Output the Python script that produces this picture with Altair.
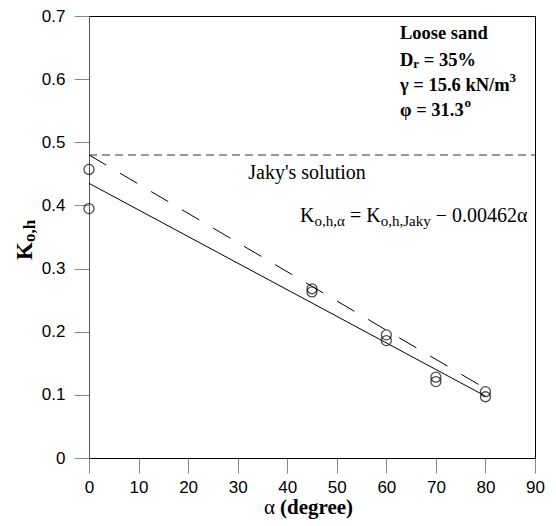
import altair as alt
import pandas as pd

# ---- data ----
alpha_pts = [0, 0, 45, 45, 60, 60, 70, 70, 80, 80]
k_pts = [0.457, 0.395, 0.268, 0.263, 0.195, 0.186, 0.128, 0.121, 0.105, 0.097]

fit_alpha = [0, 80]
fit_k = [0.435, 0.098]

jaky_alpha = [0, 80]
jaky_k = [0.48, 0.11]

jaky_level_alpha = [0, 90]
jaky_level_k = [0.48, 0.48]

x_ticks = [0, 10, 20, 30, 40, 50, 60, 70, 80, 90]
y_ticks = [0, 0.1, 0.2, 0.3, 0.4, 0.5, 0.6, 0.7]

SERIF = "Liberation Serif"
SANS = "Liberation Sans"

xs = alt.Scale(domain=[0, 90], nice=False, zero=False)
ys = alt.Scale(domain=[0, 0.7], nice=False, zero=False)

X = alt.X("a:Q", scale=xs, axis=alt.Axis(
    title="", values=x_ticks, grid=False, tickSize=15, tickColor="#888888",
    domainColor="black", labelFont=SANS, labelFontSize=17, labelColor="black",
    labelPadding=6, labelFlush=False, labelOverlap=False))
Y = alt.Y("k:Q", scale=ys, axis=alt.Axis(
    title="", values=y_ticks, grid=False, tickSize=15, tickColor="#888888",
    domainColor="#555555", labelFont=SANS, labelFontSize=17, labelColor="black",
    labelPadding=9, labelFlush=False, labelOverlap=False,
    labelExpr="datum.value == 0 ? '0' : format(datum.value, '.1f')"))

pts = alt.Chart(pd.DataFrame({"a": alpha_pts, "k": k_pts})).mark_point(
    shape="circle", filled=False, size=100, color="black", strokeWidth=1.3
).encode(x=X, y=Y)

fit = alt.Chart(pd.DataFrame({"a": fit_alpha, "k": fit_k})).mark_line(
    color="black", strokeWidth=1).encode(x=X, y=Y)

jaky = alt.Chart(pd.DataFrame({"a": jaky_alpha, "k": jaky_k})).mark_line(
    color="black", strokeWidth=1, strokeDash=[20, 16]).encode(x=X, y=Y)

level = alt.Chart(pd.DataFrame({"a": jaky_level_alpha, "k": jaky_level_k})).mark_line(
    color="#777777", strokeWidth=1.5, strokeDash=[8, 5]).encode(x=X, y=Y)


def txt(a, k, s, size=18.5, weight="bold", align="left", dx=0, dy=0, font=SERIF):
    return alt.Chart(pd.DataFrame({"a": [a], "k": [k], "t": [s]})).mark_text(
        align=align, baseline="middle", fontSize=size, fontWeight=weight,
        font=font, dx=dx, dy=dy, color="black"
    ).encode(x=X, y=Y, text="t:N")


def ptxt(px, py, s, size=21, weight="bold", align="left", dx=0, dy=0, angle=0):
    m = dict(align=align, baseline="middle", fontSize=size, fontWeight=weight,
             font=SERIF, dx=dx, dy=dy, color="black")
    if angle:
        m["angle"] = angle
    return alt.Chart(pd.DataFrame({"t": [s]})).mark_text(**m).encode(
        x=alt.value(px), y=alt.value(py), text="t:N")


# annotation block
ax0 = 62.75
labels = [
    txt(ax0, 0.673, "Loose sand"),
    txt(ax0, 0.631, "D"),
    txt(ax0, 0.631, "r", size=13, dx=13.4, dy=4),
    txt(ax0, 0.631, "= 35%", dx=23.8),
    txt(ax0, 0.590, "\u03b3 = 15.6 kN/m"),
    txt(ax0, 0.590, "3", size=13, dx=109.5, dy=-7),
    txt(ax0, 0.551, "\u03c6 = 31.3"),
    txt(ax0, 0.551, "o", size=13, dx=64.5, dy=-7),
    txt(44.0, 0.452, "Jaky's solution", size=20, weight="normal", align="center"),
]

# equation K_{o,h,alpha} = K_{o,h,Jaky} - 0.00462 alpha
ea = 42.6
ek = 0.383
eq = [
    txt(ea, ek, "K", size=20, weight="normal"),
    txt(ea, ek, "o,h,\u03b1", size=15, weight="normal", dx=14.4, dy=5),
    txt(ea, ek, "= K", size=20, weight="normal", dx=49.9),
    txt(ea, ek, "o,h,Jaky", size=15, weight="normal", dx=80.6, dy=5),
    txt(ea, ek, "\u2212 0.00462\u03b1", size=20, weight="normal", dx=135.6),
]

# axis titles built from text marks
titles = [
    ptxt(175, 492, "\u03b1", weight="normal"),
    ptxt(191, 492, "(degree)"),
    ptxt(-64, 244, "K", size=23, angle=270),
    ptxt(-64, 244, "o,h", size=17, angle=270, dx=18, dy=5),
]

chart = alt.layer(level, jaky, fit, pts, *labels, *eq, *titles).properties(
    width=446, height=442,
    autosize=alt.AutoSizeParams(type="none"),
    padding={"left": 81, "top": 8, "right": 10, "bottom": 62},
).configure_view(stroke="black", strokeWidth=1)

chart.save("out.html", embed_options={"renderer": "svg", "actions": False})
